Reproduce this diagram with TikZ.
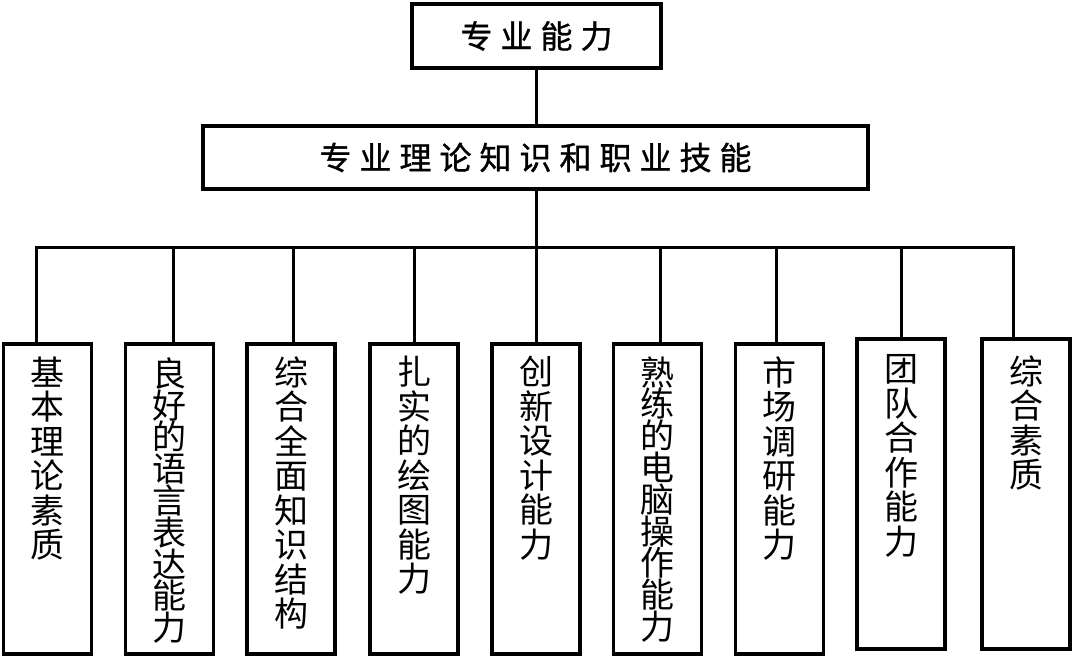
\documentclass[tikz,border=0pt]{standalone}
\usepackage{fontspec}
\newfontfamily\cjk{Noto Sans CJK SC}
\newfontfamily\cjkwide[LetterSpace=25,FakeBold=1]{Noto Sans CJK SC}
\usetikzlibrary{positioning}
\tikzset{
  head/.style={draw, line width=3.5pt, inner sep=0pt, font=\cjkwide\fontsize{32}{32}\selectfont},
  cell/.style={draw, line width=3.5pt, minimum width=88pt, minimum height=310pt, inner sep=0pt},
  vtext/.style={align=center, inner sep=0pt, font=\cjk\fontsize{34}{#1}\selectfont},
  vtext/.default=34.5pt,
  wire/.style={line width=3pt}
}
\begin{document}
\begin{tikzpicture}[x=1pt,y=-1pt]
\useasboundingbox (0,0) rectangle (1073,658);
\node[head, minimum width=249pt, minimum height=64pt] (top) at (536.5,36) {专业能力};
\node[head, minimum width=665pt, minimum height=63pt] (mid) at (535.5,157.5) {专业理论知识和职业技能};
\node[cell] (b1) at (47.5,499) {};
\node[cell] (b2) at (169.5,499) {};
\node[cell] (b3) at (291,499) {};
\node[cell] (b4) at (414,499) {};
\node[cell] (b5) at (536,499) {};
\node[cell] (b6) at (657.5,499) {};
\node[cell] (b7) at (779.5,499) {};
\node[cell] (b8) at (901,494) {};
\node[cell] (b9) at (1026,494) {};
\node[vtext, below=14pt of b1.north] (l1) {基\\本\\理\\论\\素\\质};
\node[vtext=31.8pt, below=15pt of b2.north] (l2) {良\\好\\的\\语\\言\\表\\达\\能\\力};
\node[vtext, below=14pt of b3.north] (l3) {综\\合\\全\\面\\知\\识\\结\\构};
\node[vtext, below=14pt of b4.north] (l4) {扎\\实\\的\\绘\\图\\能\\力};
\node[vtext, below=14pt of b5.north] (l5) {创\\新\\设\\计\\能\\力};
\node[vtext=31.8pt, below=14pt of b6.north] (l6) {熟\\练\\的\\电\\脑\\操\\作\\能\\力};
\node[vtext, below=14pt of b7.north] (l7) {市\\场\\调\\研\\能\\力};
\node[vtext, below=17pt of b8.north] (l8) {团\\队\\合\\作\\能\\力};
\node[vtext, below=18pt of b9.north] (l9) {综\\合\\素\\质};
\foreach \x [count=\i] in {36,173,293,414,536,660,776,901,1013}
  \coordinate (t\i) at (\x,247);
\draw[wire] (top.south) -- (top.south |- mid.north);
\draw[wire] (mid.south -| t5) -- (t5);
\draw[wire] (t1 |- b1.north) -- (t1) -- (t9) -- (t9 |- b9.north);
\foreach \i in {2,...,8}
  \draw[wire] (t\i) -- (t\i |- b\i.north);
\end{tikzpicture}
\end{document}
